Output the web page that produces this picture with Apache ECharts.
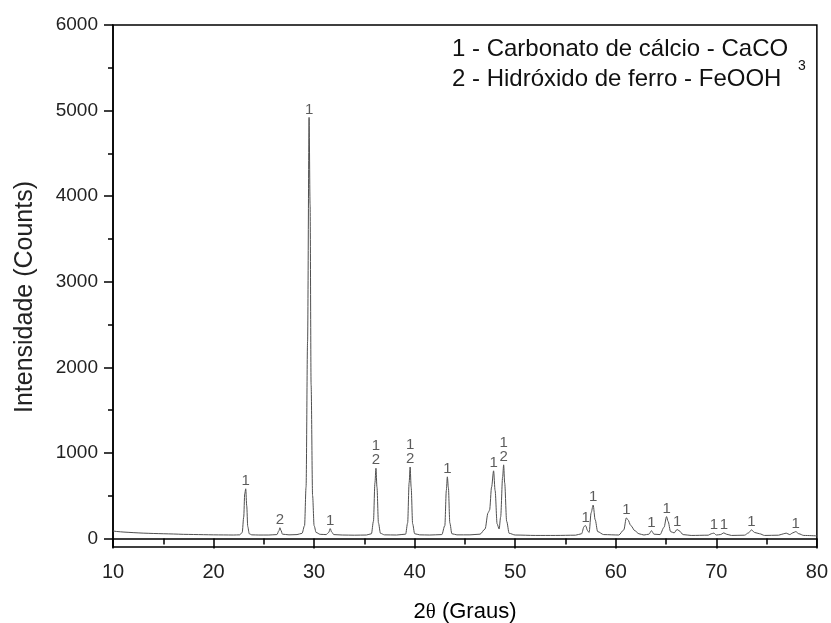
<!DOCTYPE html>
<html>
<head>
<meta charset="utf-8">
<script src="https://cdn.jsdelivr.net/npm/echarts@6/dist/echarts.min.js"></script>
<style>
  html, body { margin: 0; padding: 0; background: #fff; }
  #chart { width: 831px; height: 623px; }
</style>
</head>
<body>
<div id="chart"></div>
<script>
  // difratograma: [2theta, contagens]
  var pattern = [
    [10, 88], [10.5, 80], [11, 75], [12, 68], [13, 62], [14, 58], [15, 55], [16, 52], [17, 48], [18, 46],
    [19, 44], [20, 42], [21, 41], [22, 40], [22.6, 42], [22.85, 70], [23.0, 250], [23.1, 520], [23.2, 580],
    [23.3, 380], [23.4, 140], [23.55, 55], [23.8, 42], [24.5, 40], [25.5, 40], [26.3, 45], [26.5, 90],
    [26.6, 125], [26.7, 95], [26.85, 50], [27.5, 42], [28.3, 45], [28.8, 60], [29.05, 150], [29.2, 600],
    [29.35, 2300], [29.5, 4920], [29.6, 3900], [29.7, 1800], [29.85, 500], [30.0, 150], [30.2, 70],
    [30.6, 48], [31.2, 45], [31.45, 70], [31.6, 115], [31.75, 75], [31.95, 45], [32.8, 40], [34, 38],
    [35.2, 40], [35.7, 55], [35.9, 200], [36.05, 650], [36.15, 820], [36.25, 600], [36.4, 180], [36.6, 60],
    [37, 42], [38.2, 40], [39.1, 50], [39.3, 180], [39.45, 650], [39.55, 835], [39.65, 600], [39.8, 170],
    [40, 55], [40.5, 42], [41.5, 40], [42.7, 45], [43.0, 150], [43.15, 560], [43.25, 720], [43.35, 600],
    [43.5, 180], [43.7, 55], [44.2, 42], [45.5, 42], [46.5, 50], [47.0, 110], [47.3, 300], [47.45, 330],
    [47.65, 600], [47.85, 790], [48.0, 560], [48.2, 170], [48.4, 110], [48.55, 250], [48.75, 720],
    [48.85, 860], [48.95, 650], [49.15, 200], [49.4, 60], [50, 40], [52, 35], [54, 35], [56, 38],
    [56.6, 55], [56.85, 140], [57.0, 150], [57.2, 90], [57.35, 70], [57.55, 300], [57.75, 390],
    [57.95, 220], [58.2, 80], [58.8, 45], [60.3, 40], [60.8, 100], [61.05, 240], [61.2, 220], [61.5, 150],
    [61.9, 90], [62.3, 55], [62.8, 40], [63.3, 50], [63.55, 90], [63.8, 50], [64.4, 45], [64.8, 130],
    [65.05, 255], [65.2, 200], [65.45, 80], [65.8, 65], [66.1, 105], [66.3, 90], [66.7, 45], [67.5, 35],
    [69.2, 38], [69.5, 55], [69.75, 62], [70.0, 40], [70.4, 45], [70.75, 65], [71.0, 50], [71.5, 35],
    [72.8, 38], [73.2, 65], [73.5, 100], [73.8, 70], [74.3, 55], [74.8, 35], [76.2, 38], [76.7, 55],
    [76.95, 62], [77.3, 45], [77.6, 65], [77.9, 80], [78.2, 55], [78.7, 35], [80, 30]
  ]

  // picos identificados (1 = CaCO3, 2 = FeOOH)
  var peakX = [23.2, 26.6, 29.5, 31.6, 36.15, 39.55, 43.25, 47.85, 48.85, 57.0, 57.75, 61.05, 63.55, 65.05, 66.1, 69.75, 70.75, 73.5, 77.9]
  var peakY = [580, 125, 4920, 115, 820, 835, 720, 790, 860, 150, 390, 240, 90, 255, 105, 62, 65, 100, 80]
  var peakText = ['1', '2', '1', '1', '1\n2', '1\n2', '1', '1', '1\n2', '1', '1', '1', '1', '1', '1', '1', '1', '1', '1']

  var yMajor = [0, 1000, 2000, 3000, 4000, 5000, 6000]
  var yMinor = [500, 1500, 2500, 3500, 4500, 5500]

  var FONT = '"Liberation Sans", Arial, sans-serif'

  var peakData = peakX.map(function (x, i) {
    return { value: [x, peakY[i]], name: peakText[i] }
  })

  var chart = echarts.init(document.getElementById('chart'), null, { renderer: 'canvas' })

  var option = {
    animation: false,
    backgroundColor: '#fff',
    grid: {
      left: 113,
      right: 14,
      top: 25,
      bottom: 76,
      show: true,
      borderColor: '#000',
      borderWidth: 1.5
    },
    xAxis: {
      type: 'value',
      min: 10,
      max: 80,
      interval: 10,
      axisLine: { lineStyle: { color: '#000', width: 1.5 } },
      axisTick: { length: 10, lineStyle: { color: '#000', width: 1.5 } },
      minorTick: { show: true, splitNumber: 2, length: 6, lineStyle: { color: '#000', width: 1.5 } },
      axisLabel: { color: '#222', fontSize: 20, fontFamily: FONT, margin: 15 },
      splitLine: { show: false }
    },
    yAxis: [
      {
        type: 'value',
        min: -100,
        max: 6000,
        axisLine: { show: true, lineStyle: { color: '#000', width: 1.5 } },
        axisTick: { show: true, length: 9, customValues: yMajor, lineStyle: { color: '#000', width: 1.5 } },
        axisLabel: {
          customValues: yMajor,
          formatter: function (v) { return String(v) },
          color: '#222',
          fontSize: 19,
          fontFamily: FONT,
          margin: 15
        },
        splitLine: { show: false }
      },
      {
        type: 'value',
        min: -100,
        max: 6000,
        position: 'left',
        axisLine: { show: false },
        axisTick: { show: true, length: 5, customValues: yMinor, lineStyle: { color: '#000', width: 1.5 } },
        axisLabel: { show: false },
        splitLine: { show: false }
      }
    ],
    series: [
      {
        type: 'line',
        data: pattern,
        showSymbol: false,
        smooth: 0.3,
        smoothMonotone: 'x',
        lineStyle: { color: '#505050', width: 1 },
        silent: true
      },
      {
        type: 'scatter',
        data: peakData,
        symbolSize: 0,
        label: {
          show: true,
          position: 'top',
          distance: 1,
          formatter: function (p) { return p.name },
          color: '#333',
          fontSize: 15,
          lineHeight: 14,
          fontFamily: FONT
        },
        silent: true
      }
    ],
    graphic: [
      {
        type: 'text',
        left: 452,
        top: 37,
        style: { text: '1 - Carbonato de cálcio - CaCO', font: '24px ' + FONT, fill: '#111' }
      },
      {
        type: 'text',
        left: 798,
        top: 59,
        style: { text: '3', font: '14px ' + FONT, fill: '#111' }
      },
      {
        type: 'text',
        left: 452,
        top: 67,
        style: { text: '2 - Hidróxido de ferro - FeOOH', font: '24px ' + FONT, fill: '#111' }
      },
      {
        type: 'text',
        x: 25,
        y: 297,
        rotation: Math.PI / 2,
        style: {
          text: 'Intensidade (Counts)',
          font: '25px ' + FONT,
          fill: '#222',
          textAlign: 'center',
          textVerticalAlign: 'middle'
        }
      },
      {
        type: 'text',
        x: 465,
        y: 612,
        style: {
          text: '{a|2}{t|θ}{a| (Graus)}',
          textAlign: 'center',
          textVerticalAlign: 'middle',
          rich: {
            a: { fontSize: 22, fontFamily: FONT, color: '#222' },
            t: { fontSize: 21, fontFamily: '"Liberation Serif", serif', color: '#222' }
          }
        }
      }
    ]
  }

  chart.setOption(option)
</script>
</body>
</html>
